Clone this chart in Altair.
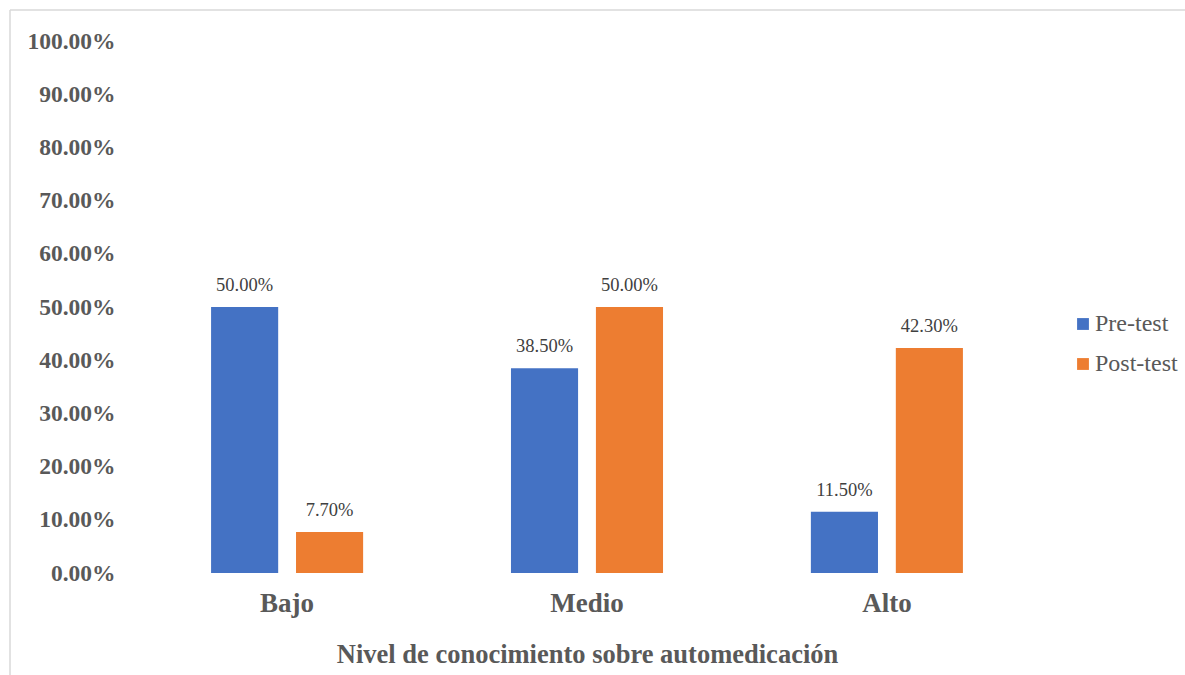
import altair as alt
import pandas as pd

categories = ["Bajo", "Medio", "Alto"]
pre_test = [0.50, 0.385, 0.115]
post_test = [0.077, 0.50, 0.423]
series = ["Pre-test", "Post-test"]
colors = ["#4472C4", "#ED7D31"]

rows = []
for c, a, b in zip(categories, pre_test, post_test):
    rows.append({"nivel": c, "grupo": "Pre-test", "valor": a})
    rows.append({"nivel": c, "grupo": "Post-test", "valor": b})
df = pd.DataFrame(rows)

FONT = "Liberation Serif"
TXT = "#595959"

x_enc = alt.X("nivel:N", sort=categories,
              scale=alt.Scale(paddingInner=0.493, paddingOuter=0.247),
              axis=alt.Axis(title="Nivel de conocimiento sobre automedicación",
                            labelAngle=0, labelFontSize=27, labelFontWeight="bold",
                            labelFont=FONT, labelColor=TXT, labelPadding=17,
                            titleFont=FONT, titleFontSize=26.5, titleFontWeight="bold",
                            titleColor=TXT, titlePadding=25,
                            domain=False, ticks=False))
y_enc = alt.Y("valor:Q", scale=alt.Scale(domain=[0, 1]),
              axis=alt.Axis(title=None, format=".2%", values=[i / 10 for i in range(11)],
                            labelFont=FONT, labelFontSize=23.5, labelFontWeight="bold",
                            labelColor=TXT, labelPadding=22, domain=False, ticks=False,
                            grid=False))
off = alt.XOffset("grupo:N", sort=series, scale=alt.Scale(paddingInner=0.21, paddingOuter=0))

base = alt.Chart(df)
bars = base.mark_bar().encode(
    x=x_enc, y=y_enc, xOffset=off,
    color=alt.Color("grupo:N", sort=series,
                    scale=alt.Scale(domain=series, range=colors),
                    legend=alt.Legend(title=None, orient="none", legendX=934, legendY=271,
                                      labelFont=FONT, labelFontSize=24, labelColor=TXT,
                                      symbolType="square", symbolSize=140,
                                      symbolStrokeWidth=0, rowPadding=16, labelOffset=0)),
)
labels = base.mark_text(font=FONT, fontSize=18.5, color="#404040", baseline="bottom", dy=-12).encode(
    x=alt.X("nivel:N", sort=categories), y="valor:Q", xOffset=alt.XOffset("grupo:N", sort=series),
    text=alt.Text("valor:Q", format=".2%"),
)

one = pd.DataFrame({"a": [0]})
top_line = alt.Chart(one).mark_rule(color="#d9d9d9", strokeWidth=1.5).encode(
    x=alt.value(-127), x2=alt.value(1048), y=alt.value(-31), y2=alt.value(-31))
left_line = alt.Chart(one).mark_rule(color="#d9d9d9", strokeWidth=1.5).encode(
    x=alt.value(-127), x2=alt.value(-127), y=alt.value(-31), y2=alt.value(634))

chart = alt.layer(top_line, left_line, bars, labels).properties(
    width=900, height=532,
    autosize=alt.AutoSizeParams(type="none"),
    padding={"left": 137, "top": 41, "right": 148, "bottom": 102},
    background="white",
).configure_view(stroke=None)

chart.save("out.html", embed_options={"renderer": "svg", "actions": False})
